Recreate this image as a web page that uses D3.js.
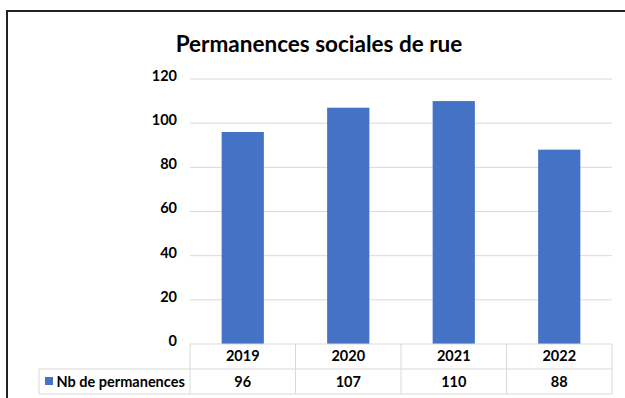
<!DOCTYPE html>
<html>
<head>
<meta charset="utf-8">
<script src="https://cdn.jsdelivr.net/npm/d3@7/dist/d3.min.js"></script>
<style>
  html, body { margin: 0; padding: 0; background: #fff; }
  svg { display: block; }
  text { font-family: Lato, "Open Sans", "Liberation Sans", sans-serif; font-weight: bold; fill: #000; }
</style>
</head>
<body>
<svg id="chart" width="625" height="398"></svg>
<script>
// Chart data
const title = "Permanences sociales de rue";
const seriesName = "Nb de permanences";
const years = ["2019", "2020", "2021", "2022"];
const permanences = [96, 107, 110, 88];
const yTicks = [0, 20, 40, 60, 80, 100, 120];

const svg = d3.select("#chart");
const W = 625, H = 398;
const labelSize = "14.5px";

// Outer frame (only top and left edges fall inside the view)
svg.append("path")
  .attr("d", `M7,${H + 5} V11 H${W + 5}`)
  .attr("fill", "none")
  .attr("stroke", "#222")
  .attr("stroke-width", 2);

const plot = { left: 190, right: 612, top: 79, bottom: 344 };

const x = d3.scaleBand().domain(years).range([plot.left, plot.right]).paddingInner(0).paddingOuter(0);
const y = d3.scaleLinear().domain([0, 120]).range([plot.bottom, plot.top]);

// Title
svg.append("text")
  .attr("x", 319).attr("y", 52)
  .attr("text-anchor", "middle")
  .style("font-size", "22.5px")
  .text(title);

// Gridlines
svg.append("g")
  .selectAll("line")
  .data(yTicks.filter(d => d > 0))
  .join("line")
  .attr("x1", plot.left).attr("x2", plot.right)
  .attr("y1", d => y(d)).attr("y2", d => y(d))
  .attr("stroke", "#d9d9d9").attr("stroke-width", 1);

// Y axis labels
const yAxis = d3.axisLeft(y).tickValues(yTicks).tickSize(0).tickPadding(0);
const gy = svg.append("g").attr("transform", `translate(177,0)`).call(yAxis);
gy.select(".domain").remove();
gy.selectAll("text").style("font-size", labelSize).attr("dy", "0.1em");

// Bars
const barW = x.bandwidth() * 0.4;
svg.append("g")
  .selectAll("rect")
  .data(permanences)
  .join("rect")
  .attr("x", (d, i) => x(years[i]) + (x.bandwidth() - barW) / 2)
  .attr("width", barW)
  .attr("y", d => y(d))
  .attr("height", d => y(0) - y(d))
  .attr("fill", "#4472C4");

// Data table under the axis
const rowTop = plot.bottom, rowMid = 369, rowBot = 394, legendLeft = 39;
const grid = svg.append("g").attr("stroke", "#d9d9d9").attr("stroke-width", 1).attr("fill", "none");
grid.append("line").attr("x1", plot.left).attr("x2", plot.right).attr("y1", rowTop).attr("y2", rowTop);
grid.append("line").attr("x1", legendLeft).attr("x2", plot.right).attr("y1", rowMid).attr("y2", rowMid);
grid.append("line").attr("x1", legendLeft).attr("x2", plot.right).attr("y1", rowBot).attr("y2", rowBot);
grid.append("line").attr("x1", legendLeft).attr("x2", legendLeft).attr("y1", rowMid).attr("y2", rowBot);
[...years.map(d => x(d)), plot.right].forEach(xv => {
  grid.append("line").attr("x1", xv).attr("x2", xv).attr("y1", rowTop).attr("y2", rowBot);
});

// Header row: years
svg.append("g").selectAll("text")
  .data(years)
  .join("text")
  .attr("x", d => x(d) + x.bandwidth() / 2)
  .attr("y", 361)
  .attr("text-anchor", "middle")
  .style("font-size", labelSize)
  .text(d => d);

// Value row
svg.append("g").selectAll("text")
  .data(permanences)
  .join("text")
  .attr("x", (d, i) => x(years[i]) + x.bandwidth() / 2)
  .attr("y", 386.5)
  .attr("text-anchor", "middle")
  .style("font-size", labelSize)
  .text(d => d);

// Legend key in the table
svg.append("rect")
  .attr("x", 45).attr("y", 377).attr("width", 8).attr("height", 8)
  .attr("fill", "#4472C4");
svg.append("text")
  .attr("x", 56.5).attr("y", 386.5)
  .style("font-size", labelSize)
  .text(seriesName);
</script>
</body>
</html>
